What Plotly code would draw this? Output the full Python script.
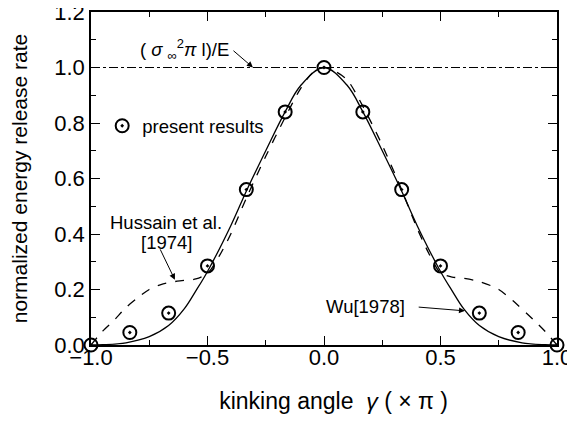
import plotly.graph_objects as go

# present results (circles)
present_x = [-1.0, -5/6, -2/3, -0.5, -1/3, -1/6, 0.0, 1/6, 1/3, 0.5, 2/3, 5/6, 1.0]
present_y = [0.0, 0.045, 0.115, 0.285, 0.56, 0.84, 1.0, 0.84, 0.56, 0.285, 0.115, 0.045, 0.0]

# Wu [1978] (solid)
wu_x = [-1.0, -0.95, -0.85, -0.75, -0.667, -0.6, -0.55, -0.5, -0.4, -0.333, -0.25, -0.167, -0.1, 0.0,
        0.1, 0.167, 0.25, 0.333, 0.4, 0.5, 0.55, 0.6, 0.667, 0.75, 0.85, 0.95, 1.0]
wu_y = [0.0, 0.001, 0.008, 0.03, 0.07, 0.13, 0.195, 0.265, 0.43, 0.555, 0.70, 0.84, 0.935, 1.0,
        0.935, 0.84, 0.70, 0.555, 0.43, 0.265, 0.195, 0.13, 0.07, 0.03, 0.008, 0.001, 0.0]

# Hussain et al. [1974] (dashed)
hu_x = [-1.0, -0.95, -0.9, -0.85, -0.8, -0.75, -0.7, -0.63, -0.55, -0.5, -0.45, -0.4, -0.333, -0.25,
        -0.167, -0.1, -0.05, 0.0, 0.05, 0.1, 0.167, 0.25, 0.333, 0.4, 0.45, 0.5, 0.55, 0.6, 0.67,
        0.75, 0.81, 0.9, 0.95, 1.0]
hu_y = [0.0, 0.05, 0.09, 0.135, 0.17, 0.2, 0.218, 0.23, 0.238, 0.258, 0.32, 0.40, 0.53, 0.68,
        0.82, 0.925, 0.98, 1.0, 0.985, 0.955, 0.86, 0.72, 0.56, 0.42, 0.33, 0.26, 0.245, 0.24, 0.228,
        0.2, 0.16, 0.09, 0.048, 0.0]

# reference level (sigma^2 pi l)/E
ref_x = [-1.0, 1.0]
ref_y = [1.0, 1.0]

# tick labels
x_ticks = [-1.0, -0.5, 0.0, 0.5, 1.0]
x_tick_labels = ["−1.0", "−0.5", "0.0", "0.5", "1.0"]
y_ticks = [0.0, 0.2, 0.4, 0.6, 0.8, 1.0, 1.2]
y_tick_labels = ["0.0", "0.2", "0.4", "0.6", "0.8", "1.0", "1.2"]

FONT = "Liberation Sans, Arial, sans-serif"

fig = go.Figure()
fig.add_trace(go.Scatter(x=ref_x, y=ref_y, mode="lines", showlegend=False,
                         line=dict(color="black", width=1.2, dash="dashdot")))
fig.add_trace(go.Scatter(x=hu_x, y=hu_y, mode="lines", showlegend=False,
                         line=dict(color="black", width=1.3, dash="dash", shape="spline", smoothing=0.8)))
fig.add_trace(go.Scatter(x=wu_x, y=wu_y, mode="lines", showlegend=False,
                         line=dict(color="black", width=1.3, shape="spline")))
fig.add_trace(go.Scatter(x=present_x, y=present_y, mode="markers", name="present results",
                         cliponaxis=False,
                         marker=dict(symbol="circle-open-dot", size=13, color="black",
                                     line=dict(color="black", width=2))))

axis_common = dict(showline=True, linecolor="black", linewidth=1.5, mirror="ticks",
                   ticks="inside", ticklen=9, tickwidth=1.3, tickcolor="black",
                   showgrid=False, zeroline=False, automargin=False, ticklabeloverflow="allow",
                   tickfont=dict(family=FONT, size=22, color="black"))

fig.update_xaxes(range=[-1, 1], tickmode="array", tickvals=x_ticks, ticktext=x_tick_labels,
                 ticklabelstandoff=-8,
                 minor=dict(tickvals=[-0.75, -0.25, 0.25, 0.75], ticks="inside", ticklen=5, tickcolor="black"),
                 title=dict(text="&nbsp;&nbsp;&nbsp;kinking angle  <i>γ</i> ( × π )",
                            font=dict(family=FONT, size=23, color="black"), standoff=24),
                 **axis_common)
fig.update_yaxes(range=[0, 1.2], tickmode="array", tickvals=y_ticks, ticktext=y_tick_labels,
                 minor=dict(tickvals=[0.1, 0.3, 0.5, 0.7, 0.9, 1.1], ticks="inside", ticklen=5, tickcolor="black"),
                 title=dict(text="normalized energy release rate", font=dict(family=FONT, size=21, color="black"),
                            standoff=24),
                 **axis_common)

ANN = dict(family=FONT, size=18.5, color="black")

fig.add_annotation(x=-0.305, y=1.0, ax=-0.395, ay=1.065, axref="x", ayref="y",
                   text="", showarrow=True, arrowhead=2, arrowwidth=1, arrowsize=1.2, arrowcolor="black")
fig.add_annotation(x=-0.60, y=1.065, text="( <i>σ</i> <sub>∞</sub><sup>2</sup><i>π</i> l)/E", showarrow=False,
                   font=ANN)

fig.add_annotation(x=-0.64, y=0.235, ax=-0.706, ay=0.35, axref="x", ayref="y",
                   text="", showarrow=True, arrowhead=2, arrowwidth=1, arrowsize=1.2, arrowcolor="black")
fig.add_annotation(x=-0.678, y=0.44, text="Hussain et al.", showarrow=False, font=ANN)
fig.add_annotation(x=-0.674, y=0.37, text="[1974]", showarrow=False, font=ANN)

fig.add_annotation(x=0.605, y=0.123, ax=0.40, ay=0.137, axref="x", ayref="y",
                   text="", showarrow=True, arrowhead=2, arrowwidth=1, arrowsize=1.2, arrowcolor="black")
fig.add_annotation(x=0.18, y=0.14, text="Wu[1978]", showarrow=False, font=ANN)

# the page body adds an 8px offset; margins place the plot box at the reference position
fig.update_layout(width=575, height=425, margin=dict(l=83, r=26, t=4, b=88),
                  paper_bgcolor="white", plot_bgcolor="white",
                  legend=dict(x=0.024, y=0.657, xanchor="left", yanchor="middle",
                              bgcolor="rgba(0,0,0,0)", font=dict(family=FONT, size=18.5, color="black"),
                              itemwidth=30))

fig.write_html("out.html")
